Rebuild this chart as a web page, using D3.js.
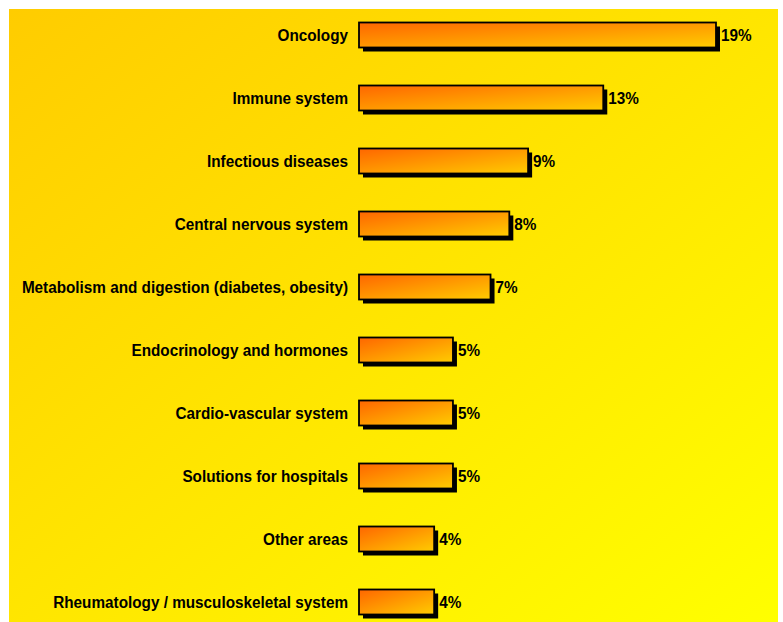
<!DOCTYPE html>
<html>
<head>
<meta charset="utf-8">
<script src="https://cdn.jsdelivr.net/npm/d3@7"></script>
<style>
  html, body { margin: 0; padding: 0; background: #fff; }
  svg { display: block; }
  .cat, .val { font-family: "Liberation Sans", Arial, sans-serif; font-weight: bold; font-size: 17px; fill: #000; }
</style>
</head>
<body>
<svg id="chart" width="783" height="622"></svg>
<script>
const categories = [
  'Oncology',
  'Immune system',
  'Infectious diseases',
  'Central nervous system',
  'Metabolism and digestion (diabetes, obesity)',
  'Endocrinology and hormones',
  'Cardio-vascular system',
  'Solutions for hospitals',
  'Other areas',
  'Rheumatology / musculoskeletal system',
];
const shares = [19, 13, 9, 8, 7, 5, 5, 5, 4, 4];
const valueLabels = ['19%', '13%', '9%', '8%', '7%', '5%', '5%', '5%', '4%', '4%'];

const data = categories.map((name, i) => ({ name, value: shares[i], label: valueLabels[i] }));

const svg = d3.select('#chart');
const defs = svg.append('defs');

const bg = defs.append('linearGradient')
  .attr('id', 'bgGrad')
  .attr('x1', '0%').attr('y1', '0%')
  .attr('x2', '100%').attr('y2', '100%');
bg.append('stop').attr('offset', '0%').attr('stop-color', '#ffcc00');
bg.append('stop').attr('offset', '100%').attr('stop-color', '#ffff00');

const barGrad = defs.append('linearGradient')
  .attr('id', 'barGrad')
  .attr('x1', '0%').attr('y1', '0%')
  .attr('x2', '100%').attr('y2', '100%');
barGrad.append('stop').attr('offset', '0%').attr('stop-color', '#ff6600');
barGrad.append('stop').attr('offset', '100%').attr('stop-color', '#ffcc00');

svg.append('rect')
  .attr('x', 9).attr('y', 9)
  .attr('width', 769).attr('height', 613)
  .attr('fill', 'url(#bgGrad)');

const x = d3.scaleLinear().domain([0, 19]).range([359, 716]);
const y = d3.scalePoint().domain(categories).range([35, 602]);
const barH = 25;
const shadow = 4;
const squeeze = 0.9; // the original font is a narrow bold face

const rows = svg.selectAll('g.row')
  .data(data)
  .enter()
  .append('g')
  .attr('class', 'row')
  .attr('transform', (d) => `translate(0,${y(d.name)})`);

// drop shadow
rows.append('rect')
  .attr('x', x(0) + shadow)
  .attr('y', -barH / 2 + shadow)
  .attr('width', (d) => x(d.value) - x(0))
  .attr('height', barH)
  .attr('fill', '#000');

rows.append('rect')
  .attr('x', x(0))
  .attr('y', -barH / 2)
  .attr('width', (d) => x(d.value) - x(0))
  .attr('height', barH)
  .attr('fill', 'url(#barGrad)')
  .attr('stroke', '#000')
  .attr('stroke-width', 1.8);

rows.append('text')
  .attr('class', 'cat')
  .attr('transform', `translate(348,0) scale(${squeeze},1)`)
  .attr('dy', '0.35em')
  .attr('text-anchor', 'end')
  .text((d) => d.name);

rows.append('text')
  .attr('class', 'val')
  .attr('transform', (d) => `translate(${x(d.value) + 5},0) scale(${squeeze},1)`)
  .attr('dy', '0.35em')
  .text((d) => d.label);
</script>
</body>
</html>
